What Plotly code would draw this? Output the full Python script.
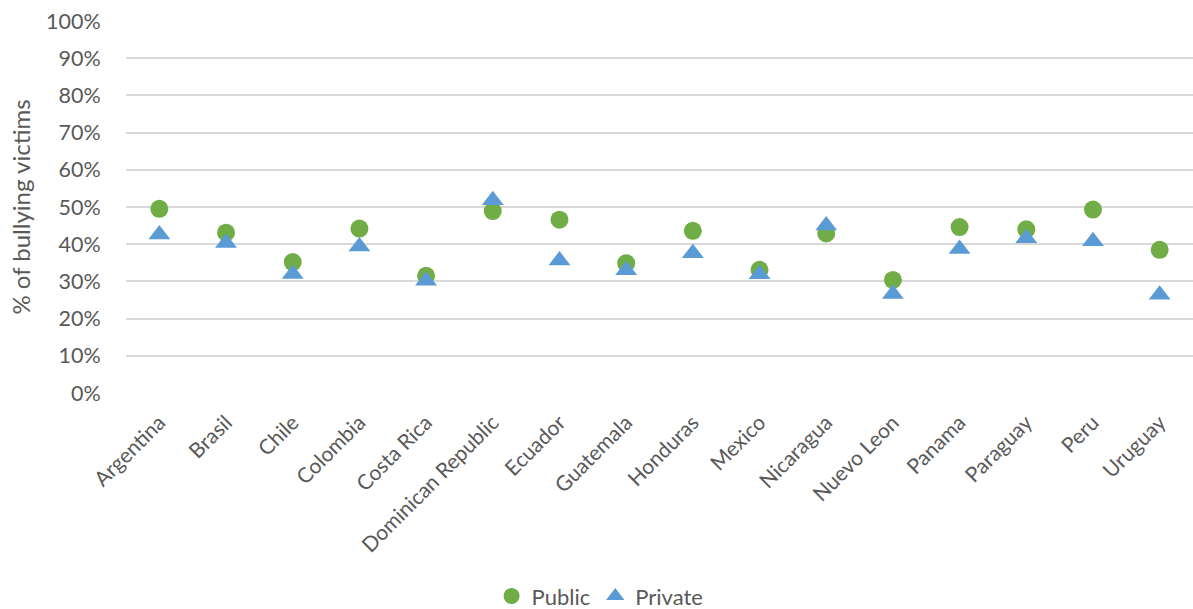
import plotly.graph_objects as go

countries = ["Argentina", "Brasil", "Chile", "Colombia", "Costa Rica",
             "Dominican Republic", "Ecuador", "Guatemala", "Honduras", "Mexico",
             "Nicaragua", "Nuevo Leon", "Panama", "Paraguay", "Peru", "Uruguay"]
public = [0.495, 0.431, 0.352, 0.442, 0.315, 0.489, 0.466, 0.349, 0.436, 0.331,
          0.429, 0.304, 0.446, 0.440, 0.493, 0.385]
private = [0.426, 0.403, 0.320, 0.394, 0.302, 0.518, 0.356, 0.330, 0.376, 0.319,
           0.450, 0.266, 0.387, 0.416, 0.408, 0.264]
y_ticks = [i / 10 for i in range(11)]

FONT = "Lato, 'Open Sans', sans-serif"
GREY = "#595959"

fig = go.Figure()
fig.add_trace(go.Scatter(
    x=countries, y=public, mode="markers", name="Public",
    marker=dict(symbol="circle", size=18, color="#70AD47", line=dict(width=0)),
))
fig.add_trace(go.Scatter(
    x=countries, y=private, mode="markers", name="Private",
    marker=dict(symbol="triangle-up", size=19, color="#5B9BD5", line=dict(width=0)),
))

fig.update_layout(
    width=1193, height=609,
    margin=dict(l=126, r=0, t=21, b=216),
    plot_bgcolor="white", paper_bgcolor="white",
    font=dict(family=FONT, color=GREY, size=21),
    showlegend=True,
    legend=dict(
        orientation="h", xref="container", yref="container",
        x=0.503, xanchor="center", y=0.021, yanchor="middle",
        font=dict(size=22, color=GREY), itemsizing="trace",
        bgcolor="rgba(0,0,0,0)",
    ),
    xaxis=dict(
        type="category", range=[-0.5, len(countries) - 0.5],
        tickangle=-45, tickfont=dict(size=21, color=GREY),
        showgrid=False, showline=False, zeroline=False,
        ticks="outside", ticklen=8, tickcolor="rgba(0,0,0,0)",
        automargin=False,
    ),
    yaxis=dict(
        range=[0, 1.0], tickvals=y_ticks, tickformat=".0%",
        tickfont=dict(size=21.5, color=GREY),
        showgrid=True, gridcolor="#D9D9D9", gridwidth=1.6,
        zeroline=False, showline=False,
        ticks="outside", ticklen=20, tickcolor="rgba(0,0,0,0)",
        title=dict(text="% of bullying victims", font=dict(size=24, color=GREY), standoff=8),
        automargin=False,
    ),
)

fig.write_html("out.html")
